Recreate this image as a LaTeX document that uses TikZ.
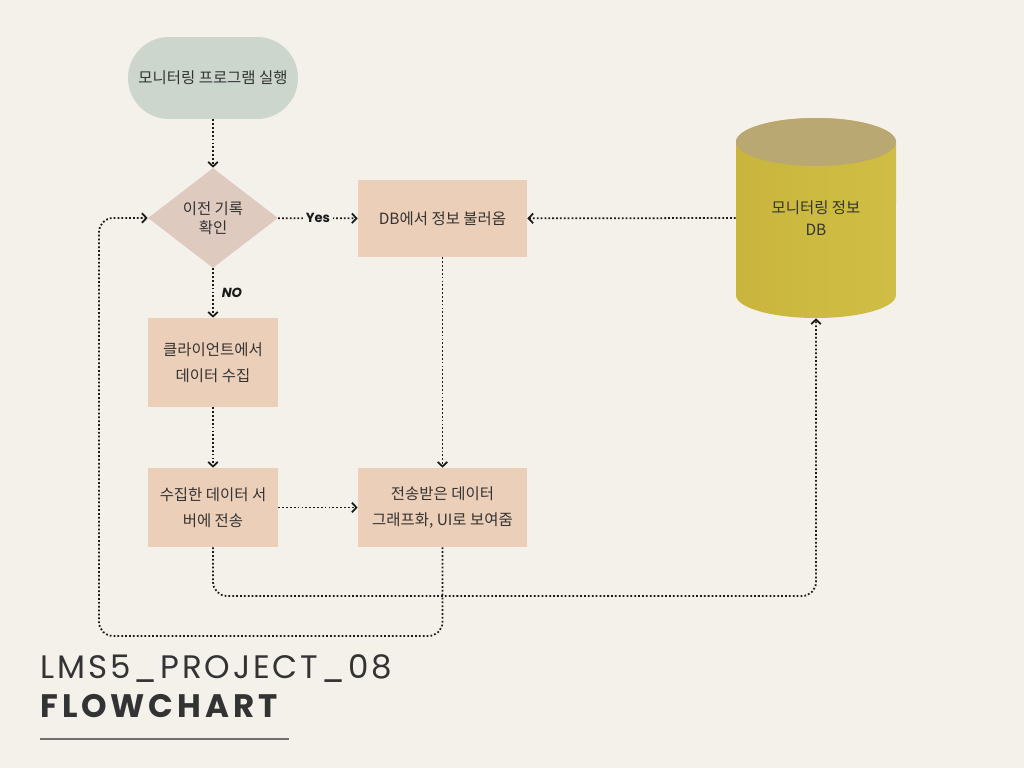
\documentclass[tikz,border=0pt]{standalone}
\usepackage{fontspec}
\usepackage{xcolor}
\usepackage{tikz}
\usetikzlibrary{arrows.meta,shapes.geometric}
\newfontfamily\kr{Noto Sans CJK KR}
\newfontfamily\ttl[LetterSpace=9]{Poppins}
\newfontfamily\ttlb[LetterSpace=12]{Poppins}
\newfontfamily\tag{Poppins}
\definecolor{bg}{HTML}{F4F0EA}
\definecolor{ink}{HTML}{333333}
\definecolor{line}{HTML}{1A1A1A}
\definecolor{sage}{HTML}{CCD6CD}
\definecolor{rose}{HTML}{DFCAC0}
\definecolor{peach}{HTML}{ECCFB8}
\definecolor{olive}{HTML}{CDBA40}
\definecolor{olivel}{HTML}{D0BD45}
\definecolor{olived}{HTML}{C9B53E}
\definecolor{lid}{HTML}{B9A872}
\definecolor{rule}{HTML}{707070}
\tikzset{
  txt/.style={text=ink, font=\kr\fontsize{8.8}{14.5}\selectfont, align=center, inner sep=0pt},
  term/.style={txt, fill=sage, minimum width=3.4cm, minimum height=1.64cm, rounded corners=0.82cm},
  decide/.style={txt, font=\kr\fontsize{8.8}{11}\selectfont, diamond, fill=rose, minimum width=2.6cm, minimum height=2cm, aspect=1.3},
  proc/.style={txt, fill=peach, minimum width=2.6cm, minimum height=1.58cm},
  flow/.style={draw=line, line width=1pt, dash pattern=on 1pt off 1.2pt,
    -{Straight Barb[length=2.6pt,width=5.5pt,line width=1pt]}},
  tagl/.style={text=line, font=\tag\bfseries\fontsize{7.5}{8}\selectfont, inner sep=1.5pt},
}
\begin{document}
\begin{tikzpicture}[x=0.02cm,y=-0.02cm]
  \fill[bg] (0,0) rectangle (1024,768);
  \useasboundingbox (0,0) rectangle (1024,768);

  % start and decision
  \node[term] (start) at (213,78) {모니터링 프로그램 실행};
  \node[decide] (check) at (213,218) {이전 기록\\확인};

  % process boxes
  \node[proc, minimum width=3.38cm, minimum height=1.54cm] (load) at (442.5,218.5) {DB에서 정보 불러옴};
  \node[proc, minimum height=1.78cm] (collect) at (213,362.5) {클라이언트에서\\데이터 수집};
  \node[proc] (send) at (213,507.5) {수집한 데이터 서\\버에 전송};
  \node[proc, minimum width=3.38cm] (show) at (442.5,507.5) {전송받은 데이터\\그래프화, UI로 보여줌};

  % DB cylinder
  \shade[left color=olived, right color=olivel, middle color=olive]
    (736,142) -- (736,295) arc[start angle=180, end angle=360, x radius=1.6cm, y radius=0.46cm]
    -- (896,142) arc[start angle=0, end angle=180, x radius=1.6cm, y radius=0.48cm] -- cycle;
  \fill[lid] (816,142) ellipse[x radius=1.6cm, y radius=0.48cm];
  \node[txt, minimum width=3.2cm, minimum height=4cm] (db) at (816,218) {\raisebox{-10pt}{\shortstack{모니터링 정보\\[2pt]DB}}};

  % connectors
  \draw[flow] (start) -- (check);
  \draw[flow] (check) -- node[tagl, fill=bg] {Yes} (load);
  \draw[flow] (check) -- node[tagl, right=3pt] {\itshape NO} (collect);
  \draw[flow] (collect) -- (send);
  \draw[flow] (send) -- (show);
  \draw[flow] (load) -- (show);
  \draw[flow] (db.west) -- (load);
  \draw[flow, rounded corners=8pt] (send.south) |- (600,596) -| (db.south);
  \draw[flow, rounded corners=8pt] (show.south) |- (99,636) |- (check.west);

  % title
  \node[anchor=base west, inner sep=0pt, text=ink, font=\ttl\fontsize{18.5}{20}\selectfont] (title) at (40,678) {LMS5\_PROJECT\_08};
  \node[anchor=base west, inner sep=0pt, text=ink, font=\ttlb\bfseries\fontsize{18.5}{20}\selectfont] (sub) at (40,717) {FLOWCHART};
  \draw[rule, line width=1.1pt] (40,739) -- (289,739);
\end{tikzpicture}
\end{document}
